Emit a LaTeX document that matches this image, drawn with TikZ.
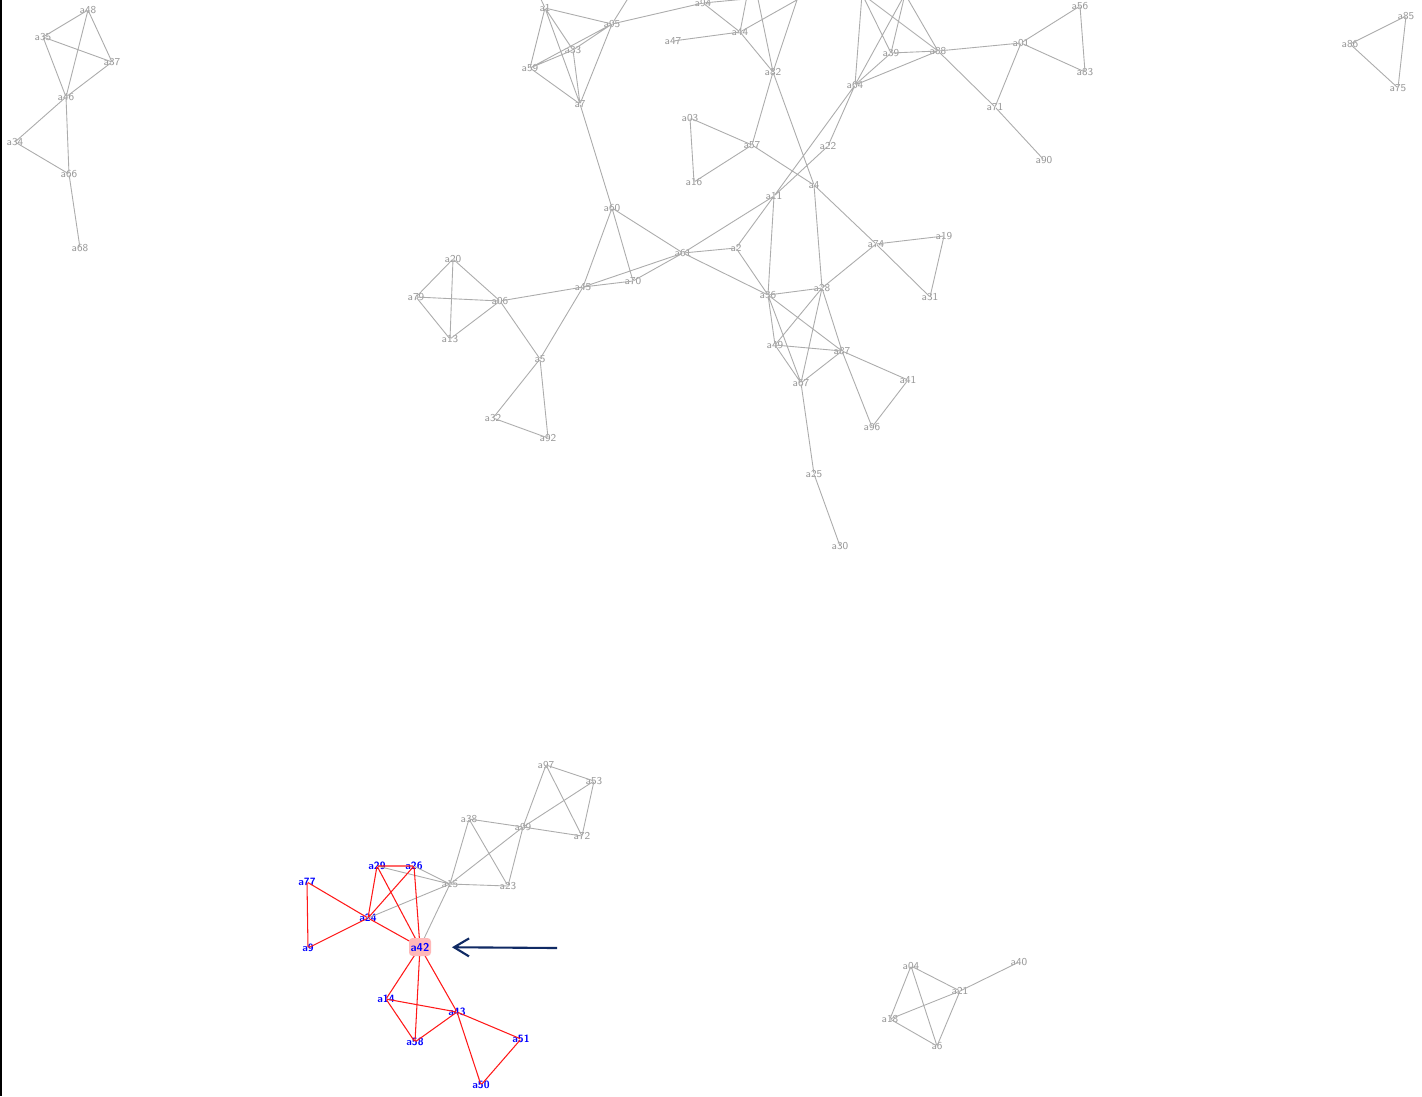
\documentclass[tikz,border=0pt]{standalone}
\usepackage{tikz}
\usetikzlibrary{arrows.meta}

\definecolor{navy}{RGB}{16,42,100}

\begin{document}
\begin{tikzpicture}[
      x=0.02cm, y=-0.02cm,
      lbl/.style={font=\sffamily\fontsize{6}{6}\selectfont, text=gray!80, inner sep=0pt},
      hot/.style={font=\sffamily\bfseries\fontsize{6}{6}\selectfont, text=blue, inner sep=0pt},
      v/.style={inner sep=0pt, outer sep=0pt, label={[lbl]center:#1}},
      rv/.style={inner sep=0pt, outer sep=0pt, label={[hot]center:#1}},
      edge/.style={draw=gray!65, line width=0.5pt},
      redge/.style={draw=red!90, line width=0.6pt},
      hub/.style={rounded corners=2pt, fill=red!28, minimum width=0.44cm, minimum height=0.36cm, inner sep=0pt, font=\sffamily\bfseries\fontsize{6.5}{6.5}\selectfont, text=blue}
    ]
    \useasboundingbox (0,0) rectangle (1422,1096);
    \clip (0,0) rectangle (1422,1096);
    \fill[white] (0,0) rectangle (1422,1096);

    % Top-left group
    \node[v=a48] (tA48) at (88,10) {};
    \node[v=a35] (tA35) at (43,37) {};
    \node[v=a37] (tA37) at (112,62) {};
    \node[v=a46] (tA46) at (66,97) {};
    \node[v=a34] (tA34) at (15,142) {};
    \node[v=a66] (tA66) at (69,174) {};
    \node[v=a68] (tA68) at (80,248) {};

    % Top-right group
    \node[v=a85] (rA85) at (1406,16) {};
    \node[v=a86] (rA86) at (1350,44) {};
    \node[v=a75] (rA75) at (1398,88) {};

    % Main component
    \node[v=a1] (a1) at (545,8) {};
    \node[v=a95] (a95) at (612,24) {};
    \node[v=a33] (a33) at (573,50) {};
    \node[v=a59] (a59) at (530,68) {};
    \node[v=a7] (a7) at (580,104) {};
    \node[v=a94] (a94) at (703,3) {};
    \node[v=a44] (a44) at (740,32) {};
    \node[v=a47] (a47) at (673,41) {};
    \node[v=a82] (a82) at (773,72) {};
    \node[v=a03] (a03) at (690,118) {};
    \node[v=a16] (a16) at (694,182) {};
    \node[v=a57] (a57) at (752,145) {};
    \node[v=a22] (a22) at (828,146) {};
    \node[v=a4] (a4) at (814,185) {};
    \node[v=a11] (a11) at (774,196) {};
    \node[v=a60] (a60) at (612,208) {};
    \node[v=a61] (a61) at (683,253) {};
    \node[v=a2] (a2) at (736,248) {};
    \node[v=a45] (a45) at (583,287) {};
    \node[v=a70] (a70) at (633,281) {};
    \node[v=a20] (a20) at (453,259) {};
    \node[v=a79] (a79) at (416,297) {};
    \node[v=a13] (a13) at (450,339) {};
    \node[v=a06] (a06) at (500,301) {};
    \node[v=a5] (a5) at (540,359) {};
    \node[v=a32] (a32) at (493,418) {};
    \node[v=a92] (a92) at (548,438) {};
    \node[v=a36] (a36) at (768,295) {};
    \node[v=a28] (a28) at (822,288) {};
    \node[v=a49] (a49) at (775,345) {};
    \node[v=a87] (a87) at (842,351) {};
    \node[v=a67] (a67) at (801,383) {};
    \node[v=a41] (a41) at (908,380) {};
    \node[v=a96] (a96) at (872,427) {};
    \node[v=a25] (a25) at (814,474) {};
    \node[v=a30] (a30) at (840,546) {};
    \node[v=a74] (a74) at (876,244) {};
    \node[v=a19] (a19) at (944,236) {};
    \node[v=a31] (a31) at (930,297) {};
    \node[v=a64] (a64) at (855,85) {};
    \node[v=a39] (a39) at (891,53) {};
    \node[v=a88] (a88) at (938,51) {};
    \node[v=a01] (a01) at (1021,43) {};
    \node[v=a56] (a56) at (1080,6) {};
    \node[v=a83] (a83) at (1085,72) {};
    \node[v=a71] (a71) at (995,107) {};
    \node[v=a90] (a90) at (1044,160) {};

    % Links that leave the top of the frame
    \coordinate (up1) at (532,-20);
    \coordinate (up2) at (652,-40);
    \coordinate (up3) at (800,-6);
    \coordinate (up4) at (752,-30);
    \coordinate (up5) at (850,-30);
    \coordinate (up6) at (807,-30);
    \coordinate (up7) at (862,-6);
    \coordinate (up8) at (905,-6);

    % Bottom component
    \node[v=a97] (a97) at (546,765) {};
    \node[v=a53] (a53) at (594,781) {};
    \node[v=a99] (a99) at (523,827) {};
    \node[v=a72] (a72) at (582,836) {};
    \node[v=a38] (a38) at (469,819) {};
    \node[v=a15] (a15) at (450,884) {};
    \node[v=a23] (a23) at (508,886) {};
    \node[rv=a29] (a29) at (377,866) {};
    \node[rv=a26] (a26) at (414,866) {};
    \node[rv=a77] (a77) at (307,882) {};
    \node[rv=a24] (a24) at (368,918) {};
    \node[rv=a9] (a9) at (308,948) {};
    \coordinate (a42) at (420,947);
    \node[rv=a14] (a14) at (386,999) {};
    \node[rv=a58] (a58) at (415,1042) {};
    \node[rv=a43] (a43) at (457,1012) {};
    \node[rv=a51] (a51) at (521,1039) {};
    \node[rv=a50] (a50) at (481,1085) {};

    % Bottom-right group
    \node[v=a04] (a04) at (911,966) {};
    \node[v=a21] (a21) at (960,991) {};
    \node[v=a40] (a40) at (1019,962) {};
    \node[v=a18] (a18) at (890,1019) {};
    \node[v=a6] (a6) at (937,1046) {};

    % Grey links
    \draw[edge] (tA48) -- (tA35) (tA48) -- (tA37) (tA48) -- (tA46) (tA35) -- (tA37)
      (tA35) -- (tA46) (tA37) -- (tA46) (tA46) -- (tA34) (tA46) -- (tA66)
      (tA34) -- (tA66) (tA66) -- (tA68);
    \draw[edge] (rA85) -- (rA86) (rA85) -- (rA75) (rA86) -- (rA75);
    \draw[edge] (a1) -- (a95) (a1) -- (a33) (a1) -- (a59) (a1) -- (a7) (a95) -- (a33)
      (a33) -- (a59) (a95) -- (a59) (a33) -- (a7) (a95) -- (a7) (a59) -- (a7)
      (a7) -- (a60) (a95) -- (a94) (a94) -- (a44) (a44) -- (a82) (a47) -- (a44)
      (a82) -- (a57) (a82) -- (a4) (a03) -- (a57) (a03) -- (a16) (a16) -- (a57)
      (a57) -- (a4) (a4) -- (a74) (a4) -- (a28) (a64) -- (a11) (a64) -- (a22)
      (a22) -- (a11) (a11) -- (a61) (a11) -- (a2) (a11) -- (a36);
    \draw[edge] (a60) -- (a61) (a60) -- (a45) (a60) -- (a70) (a61) -- (a2)
      (a61) -- (a36) (a61) -- (a45) (a61) -- (a70) (a45) -- (a70) (a2) -- (a36)
      (a36) -- (a28) (a36) -- (a49) (a36) -- (a87) (a36) -- (a67) (a28) -- (a49)
      (a28) -- (a67) (a28) -- (a87) (a28) -- (a74) (a49) -- (a87) (a49) -- (a67)
      (a87) -- (a67) (a87) -- (a41) (a87) -- (a96) (a41) -- (a96) (a67) -- (a25)
      (a25) -- (a30) (a74) -- (a19) (a74) -- (a31) (a19) -- (a31);
    \draw[edge] (a20) -- (a79) (a20) -- (a13) (a20) -- (a06) (a79) -- (a06)
      (a79) -- (a13) (a13) -- (a06) (a06) -- (a45) (a06) -- (a5) (a45) -- (a5)
      (a5) -- (a32) (a5) -- (a92) (a32) -- (a92);
    \draw[edge] (a64) -- (a39) (a64) -- (a88) (a39) -- (a88) (a88) -- (a01)
      (a88) -- (a71) (a71) -- (a90) (a01) -- (a71) (a01) -- (a56) (a01) -- (a83)
      (a56) -- (a83);
    \draw[edge] (a1) -- (up1) (a95) -- (up2) (a94) -- (up3) (a44) -- (up4)
      (a82) -- (up4) (a44) -- (up5) (a82) -- (up6) (a64) -- (up7) (a39) -- (up7)
      (a88) -- (up7) (a64) -- (up8) (a39) -- (up8) (a88) -- (up8);
    \draw[edge] (a97) -- (a53) (a97) -- (a99) (a97) -- (a72) (a53) -- (a99)
      (a53) -- (a72) (a99) -- (a72) (a38) -- (a99) (a38) -- (a15) (a38) -- (a23)
      (a99) -- (a23) (a99) -- (a15) (a15) -- (a23) (a15) -- (a29) (a15) -- (a26)
      (a15) -- (a24) (a15) -- (a42);
    \draw[edge] (a04) -- (a21) (a04) -- (a18) (a04) -- (a6) (a18) -- (a21)
      (a18) -- (a6) (a6) -- (a21) (a21) -- (a40);

    % Red links round the selected node
    \draw[redge] (a29) -- (a26) (a29) -- (a24) (a29) -- (a42) (a26) -- (a24)
      (a26) -- (a42) (a77) -- (a24) (a24) -- (a42) (a77) -- (a9) (a9) -- (a24)
      (a42) -- (a14) (a42) -- (a58) (a42) -- (a43) (a14) -- (a43) (a14) -- (a58)
      (a58) -- (a43) (a43) -- (a51) (a43) -- (a50) (a51) -- (a50);

    % Selected node and pointer
    \node[hub] (a42box) at (a42) {a42};
    \coordinate (ptr) at (557,948);
    \draw[navy, line width=1.2pt, shorten >=0.64cm, -{Straight Barb[length=0.3cm, width=0.36cm]}] (ptr) -- (a42);

    % Frame edge
    \draw[line width=2pt] (0,0) -- (0,1096);
  \end{tikzpicture}
\end{document}
